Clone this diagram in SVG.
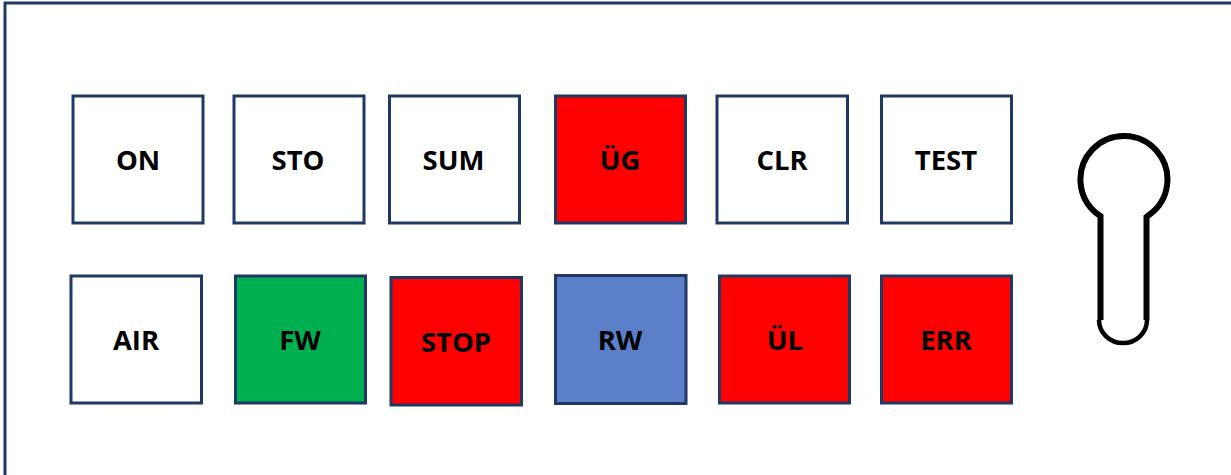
<svg xmlns="http://www.w3.org/2000/svg" width="1231" height="475" viewBox="0 0 1231 475">
<style>
.b{stroke:#1f3864;stroke-width:3}
.w{fill:#fff}.r{fill:#f00}.g{fill:#00b050}.u{fill:#5b80c9}
text{font-family:"Open Sans","Liberation Sans",sans-serif;font-weight:700;font-size:27.5px;text-anchor:middle;fill:#000}
.k{fill:none;stroke:#000}
</style>
<rect width="1231" height="475" fill="#fff"/>
<g id="panel"><path d="M5 475V3H1231" fill="none" stroke="#1f3864" stroke-width="3"/></g>
<g id="on"><rect class="b w" x="73" y="96" width="130" height="127"/><text x="138" y="170">ON</text></g>
<g id="sto"><rect class="b w" x="234" y="96" width="130" height="127"/><text x="298" y="170">STO</text></g>
<g id="sum"><rect class="b w" x="389.500" y="96" width="130" height="127"/><text x="453.500" y="170">SUM</text></g>
<g id="ug"><rect class="b r" x="555.500" y="96" width="130" height="127"/><text x="620" y="170">ÜG</text></g>
<g id="clr"><rect class="b w" x="717" y="96" width="130.500" height="127"/><text x="782" y="170">CLR</text></g>
<g id="test"><rect class="b w" x="881.500" y="96" width="130" height="127"/><text x="946" y="170">TEST</text></g>
<g id="air"><rect class="b w" x="71" y="276" width="130.500" height="127"/><text x="136" y="350">AIR</text></g>
<g id="fw"><rect class="b g" x="235.500" y="276" width="130" height="127"/><text x="300" y="350">FW</text></g>
<g id="stop"><rect class="b r" x="391" y="277.500" width="130.500" height="127.500"/><text x="456" y="352">STOP</text></g>
<g id="rw"><rect class="b u" x="555.500" y="275.500" width="130.500" height="128"/><text x="620" y="350">RW</text></g>
<g id="ul"><rect class="b r" x="719.500" y="276" width="130" height="127"/><text x="785" y="350">ÜL</text></g>
<g id="err"><rect class="b r" x="881.500" y="276" width="130" height="127"/><text x="946" y="350">ERR</text></g>
<g id="keyhole"><path class="k" stroke-width="6" d="M1100.500 320V216L1097.500 214A43.500 43.500 0 1 1 1149 215L1146.500 217V320"/><path class="k" stroke-width="4.500" d="M1147 320A24 23 0 0 1 1099 320"/></g>
</svg>
